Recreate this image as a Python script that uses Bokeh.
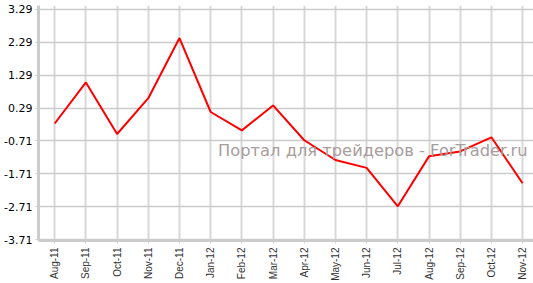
import math
from bokeh.plotting import figure
from bokeh.models import FixedTicker, PrintfTickFormatter, Range1d, Label
from bokeh.embed import file_html
from bokeh.resources import INLINE

months = ["Aug-11", "Sep-11", "Oct-11", "Nov-11", "Dec-11", "Jan-12", "Feb-12", "Mar-12",
          "Apr-12", "May-12", "Jun-12", "Jul-12", "Aug-12", "Sep-12", "Oct-12", "Nov-12"]
values = [-0.18, 1.07, -0.50, 0.59, 2.42, 0.17, -0.39, 0.37,
          -0.69, -1.29, -1.53, -2.70, -1.18, -1.03, -0.60, -2.00]
y_ticks = [-3.71, -2.71, -1.71, -0.71, 0.29, 1.29, 2.29, 3.29]
watermark = "Портал для трейдеров - ForTrader.ru"

xs = list(range(len(months)))

p = figure(width=533, height=283, output_backend="svg", toolbar_location=None,
           x_range=Range1d(-0.52, 15.35), y_range=Range1d(-3.74, 3.41),
           min_border_left=38, min_border_right=0, min_border_top=5, min_border_bottom=39)
p.outline_line_color = None
p.background_fill_color = "white"
p.border_fill_color = "white"

p.line(xs, values, line_color="#ff0000", line_width=2)

p.xaxis.ticker = FixedTicker(ticks=xs)
p.xaxis.major_label_overrides = {i: m for i, m in enumerate(months)}
p.xaxis.major_label_orientation = math.pi / 2
p.xaxis.major_label_text_font = "Liberation Sans"
p.xaxis.major_label_text_font_size = "10px"
p.xaxis.major_label_text_color = "#333333"
p.xaxis.minor_tick_line_color = None
p.xaxis.major_tick_in = 0
p.xaxis.major_tick_out = 3
p.xaxis.major_tick_line_color = "#cccccc"
p.xaxis.axis_line_color = "#cccccc"
p.xaxis.axis_line_width = 3
p.xaxis.major_label_standoff = 4

p.yaxis.ticker = FixedTicker(ticks=y_ticks)
p.yaxis.formatter = PrintfTickFormatter(format="%.2f")
p.yaxis.major_label_text_font = "DejaVu Sans"
p.yaxis.major_label_text_font_size = "11px"
p.yaxis.major_label_text_color = "#000000"
p.yaxis.minor_tick_line_color = None
p.yaxis.major_tick_in = 0
p.yaxis.major_tick_out = 3
p.yaxis.major_tick_line_color = "#cccccc"
p.yaxis.axis_line_color = "#cccccc"
p.yaxis.axis_line_width = 3
p.yaxis.major_label_standoff = 3

p.xgrid.grid_line_color = "#d8d8d8"
p.xgrid.grid_line_width = 2
p.ygrid.grid_line_color = "#cccccc"
p.ygrid.grid_line_width = 1.5

p.add_layout(Label(x=489, y=90, x_units="screen", y_units="screen", text=watermark,
                   text_font="DejaVu Sans", text_font_size="16.3px", text_color="#a89c9c",
                   text_align="right", text_baseline="middle"))

open("out.html", "w").write(file_html(p, INLINE))
